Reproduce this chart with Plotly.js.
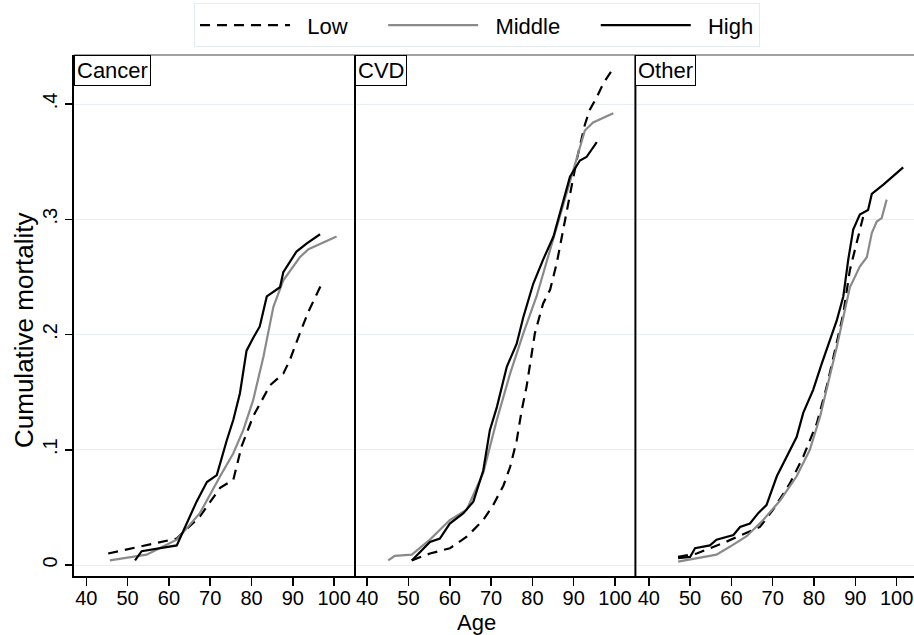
<!DOCTYPE html>
<html><head><meta charset="utf-8">
<script src="https://cdn.plot.ly/plotly-3.0.1.min.js"></script>
<style>html,body{margin:0;padding:0;background:#fff}#chart{width:914px;height:635px}</style>
</head><body><div id="chart"></div>
<script>
const panels = ['Cancer', 'CVD', 'Other'];
const groups = ['Low', 'Middle', 'High'];
const yTickVals = [0, 0.1, 0.2, 0.3, 0.4];
const yTickText = ['0', '.1', '.2', '.3', '.4'];
const xTickVals = [40, 50, 60, 70, 80, 90, 100];
const xTickText = ['40', '50', '60', '70', '80', '90', '100'];

// Cancer
const cancerLowAge = [45.3, 61.9, 67.5, 72.4, 75.6, 77.6, 80.4, 84.5, 87.7, 89.3, 91.7, 93.8, 97.0];
const cancerLowCum = [0.010, 0.023, 0.042, 0.067, 0.074, 0.103, 0.129, 0.156, 0.166, 0.178, 0.201, 0.220, 0.244];
const cancerMidAge = [45.7, 54.6, 61.9, 67.5, 72.4, 75.6, 78.0, 80.4, 82.9, 85.3, 87.7, 90.1, 91.7, 93.8, 100.6];
const cancerMidCum = [0.004, 0.009, 0.022, 0.045, 0.077, 0.097, 0.117, 0.143, 0.181, 0.224, 0.247, 0.259, 0.267, 0.274, 0.285];
const cancerHighAge = [51.8, 53.4, 61.9, 63.9, 66.7, 69.2, 71.6, 74.0, 75.6, 77.2, 78.8, 80.4, 82.0, 83.7, 86.9, 87.7, 90.9, 93.4, 96.6];
const cancerHighCum = [0.004, 0.012, 0.017, 0.033, 0.055, 0.072, 0.078, 0.108, 0.126, 0.149, 0.186, 0.197, 0.207, 0.233, 0.241, 0.254, 0.272, 0.279, 0.287];

// CVD
const cvdLowAge = [50.8, 55.2, 60.0, 64.1, 68.1, 70.5, 73.0, 74.6, 76.2, 77.4, 78.6, 79.8, 80.6, 82.6, 84.3, 85.9, 87.1, 88.3, 89.5, 90.7, 92.7, 93.9, 95.6, 97.2, 99.2];
const cvdLowCum = [0.004, 0.010, 0.0145, 0.0245, 0.039, 0.052, 0.069, 0.085, 0.108, 0.134, 0.155, 0.181, 0.201, 0.227, 0.239, 0.262, 0.285, 0.308, 0.331, 0.351, 0.382, 0.395, 0.406, 0.418, 0.429];
const cvdMidAge = [45.1, 46.7, 50.8, 55.2, 60.0, 64.1, 68.1, 71.4, 74.6, 77.8, 81.0, 84.3, 87.5, 90.7, 92.7, 94.7, 99.6];
const cvdMidCum = [0.004, 0.008, 0.009, 0.022, 0.039, 0.048, 0.080, 0.126, 0.166, 0.201, 0.233, 0.273, 0.314, 0.351, 0.377, 0.384, 0.392];
const cvdHighAge = [50.8, 53.2, 55.2, 57.6, 60.0, 63.3, 65.7, 68.1, 69.7, 71.4, 73.8, 76.2, 77.8, 80.2, 82.6, 85.1, 86.7, 89.1, 91.5, 93.1, 95.6];
const cvdHighCum = [0.004, 0.013, 0.020, 0.023, 0.036, 0.045, 0.055, 0.082, 0.117, 0.137, 0.172, 0.192, 0.215, 0.244, 0.265, 0.285, 0.305, 0.337, 0.351, 0.354, 0.367];

// Other
const otherLowAge = [47.1, 51.6, 58.0, 66.9, 70.1, 74.2, 77.4, 80.7, 83.1, 85.1, 87.1, 88.7, 90.3, 91.9];
const otherLowCum = [0.007, 0.010, 0.019, 0.033, 0.048, 0.071, 0.094, 0.123, 0.155, 0.186, 0.218, 0.256, 0.279, 0.302];
const otherMidAge = [47.1, 56.4, 59.7, 63.7, 67.7, 71.8, 75.8, 79.0, 81.5, 83.5, 85.5, 87.1, 88.7, 91.1, 92.8, 94.0, 95.2, 96.4, 97.6];
const otherMidCum = [0.003, 0.009, 0.016, 0.025, 0.039, 0.056, 0.077, 0.100, 0.129, 0.158, 0.189, 0.215, 0.241, 0.259, 0.267, 0.288, 0.298, 0.301, 0.317];
const otherHighAge = [47.1, 50.0, 51.2, 54.8, 56.4, 60.5, 62.1, 64.5, 66.5, 68.5, 71.0, 73.4, 75.8, 77.4, 79.8, 81.9, 83.9, 85.5, 87.1, 88.3, 89.5, 91.1, 93.1, 94.0, 96.8, 101.6];
const otherHighCum = [0.006, 0.007, 0.0145, 0.017, 0.022, 0.026, 0.033, 0.036, 0.045, 0.052, 0.077, 0.094, 0.111, 0.132, 0.152, 0.175, 0.195, 0.212, 0.233, 0.265, 0.291, 0.304, 0.308, 0.322, 0.330, 0.345];

const FONT = '"Liberation Sans", Arial, Helvetica, sans-serif';
const NB = '\u00a0';
const groupStyle = {
  Low: {color: '#000000', dash: '10px,7px', label: NB + NB + 'Low' + NB.repeat(5)},
  Middle: {color: '#8a8a8a', dash: 'solid', label: NB + NB + 'Middle' + NB.repeat(5)},
  High: {color: '#000000', dash: 'solid', label: NB + NB + 'High'}
};
const series = [
  [[cancerLowAge, cancerLowCum], [cancerMidAge, cancerMidCum], [cancerHighAge, cancerHighCum]],
  [[cvdLowAge, cvdLowCum], [cvdMidAge, cvdMidCum], [cvdHighAge, cvdHighCum]],
  [[otherLowAge, otherLowCum], [otherMidAge, otherMidCum], [otherHighAge, otherHighCum]]
];
const axisIds = ['x', 'x2', 'x3'];

const traces = [];
panels.forEach((p, pi) => {
  groups.forEach((g, gi) => {
    traces.push({
      type: 'scatter', mode: 'lines',
      x: series[pi][gi][0], y: series[pi][gi][1],
      xaxis: axisIds[pi], yaxis: 'y',
      name: groupStyle[g].label, legendgroup: g, showlegend: pi === 0,
      line: {color: groupStyle[g].color, width: 2.2, dash: groupStyle[g].dash},
      hoverinfo: 'x+y'
    });
  });
});

const xCommon = {
  tickmode: 'array', tickvals: xTickVals, ticktext: xTickText,
  ticks: 'outside', ticklen: 8, tickwidth: 1.5, tickcolor: '#000',
  ticklabelstandoff: -5,
  showline: true, linecolor: '#000', linewidth: 2,
  showgrid: false, zeroline: false, anchor: 'y', fixedrange: true,
  tickfont: {family: FONT, size: 20, color: '#000'}
};
const d1 = 281 / 840, d2 = 561.4 / 840;

const layout = {
  width: 914, height: 635,
  margin: {l: 74, r: 0, t: 55, b: 59, pad: 0},
  paper_bgcolor: '#ffffff', plot_bgcolor: '#ffffff',
  font: {family: FONT, color: '#000'},
  showlegend: true,
  legend: {
    orientation: 'h', x: (477 - 74) / 840, xanchor: 'center', y: 1.0992, yanchor: 'top',
    bordercolor: '#e3ebee', borderwidth: 1, bgcolor: '#ffffff',
    font: {family: FONT, size: 22, color: '#000'}, itemwidth: 90, traceorder: 'normal'
  },
  xaxis: Object.assign({}, xCommon, {domain: [0, d1], range: [37.02, 105.06]}),
  xaxis2: Object.assign({}, xCommon, {domain: [d1, d2], range: [37.05, 104.94]}),
  xaxis3: Object.assign({}, xCommon, {domain: [d2, 1], range: [36.76, 104.22]}),
  yaxis: {
    range: [-0.00954, 0.44252], tickmode: 'array', tickvals: yTickVals, ticktext: yTickText,
    tickangle: -90, ticks: 'outside', ticklen: 7, tickwidth: 1.5, tickcolor: '#000',
    showline: true, linecolor: '#000', linewidth: 2,
    showgrid: true, gridcolor: '#e6eff1', gridwidth: 1, zeroline: false, fixedrange: true,
    tickfont: {family: FONT, size: 20, color: '#000'}
  },
  shapes: [
    {type: 'line', xref: 'paper', yref: 'paper', x0: d1, x1: d1, y0: 0, y1: 1, line: {color: '#000', width: 2}},
    {type: 'line', xref: 'paper', yref: 'paper', x0: d2, x1: d2, y0: 0, y1: 1, line: {color: '#000', width: 2}},
    {type: 'line', xref: 'paper', yref: 'paper', x0: 0, x1: 1, y0: 1, y1: 1, line: {color: '#444', width: 1}}
  ],
  annotations: [
    ...panels.map((p, i) => ({
      text: p, xref: 'paper', yref: 'paper', x: [0, d1, d2][i], y: 1,
      xanchor: 'left', yanchor: 'top', showarrow: false,
      bordercolor: '#000', borderwidth: 1, bgcolor: '#fff', borderpad: 2,
      font: {family: FONT, size: 22, color: '#000'}
    })),
    {text: 'Cumulative mortality', xref: 'paper', yref: 'paper', x: (24 - 74) / 840, y: (576 - 330) / 521,
     xanchor: 'center', yanchor: 'middle', textangle: -90, showarrow: false,
     font: {family: FONT, size: 26, color: '#000'}},
    {text: 'Age', xref: 'paper', yref: 'paper', x: (476 - 74) / 840, y: (576 - 622) / 521,
     xanchor: 'center', yanchor: 'middle', showarrow: false,
     font: {family: FONT, size: 22, color: '#000'}}
  ]
};

Plotly.newPlot('chart', traces, layout, {displayModeBar: false, staticPlot: true});
</script>
</body></html>
